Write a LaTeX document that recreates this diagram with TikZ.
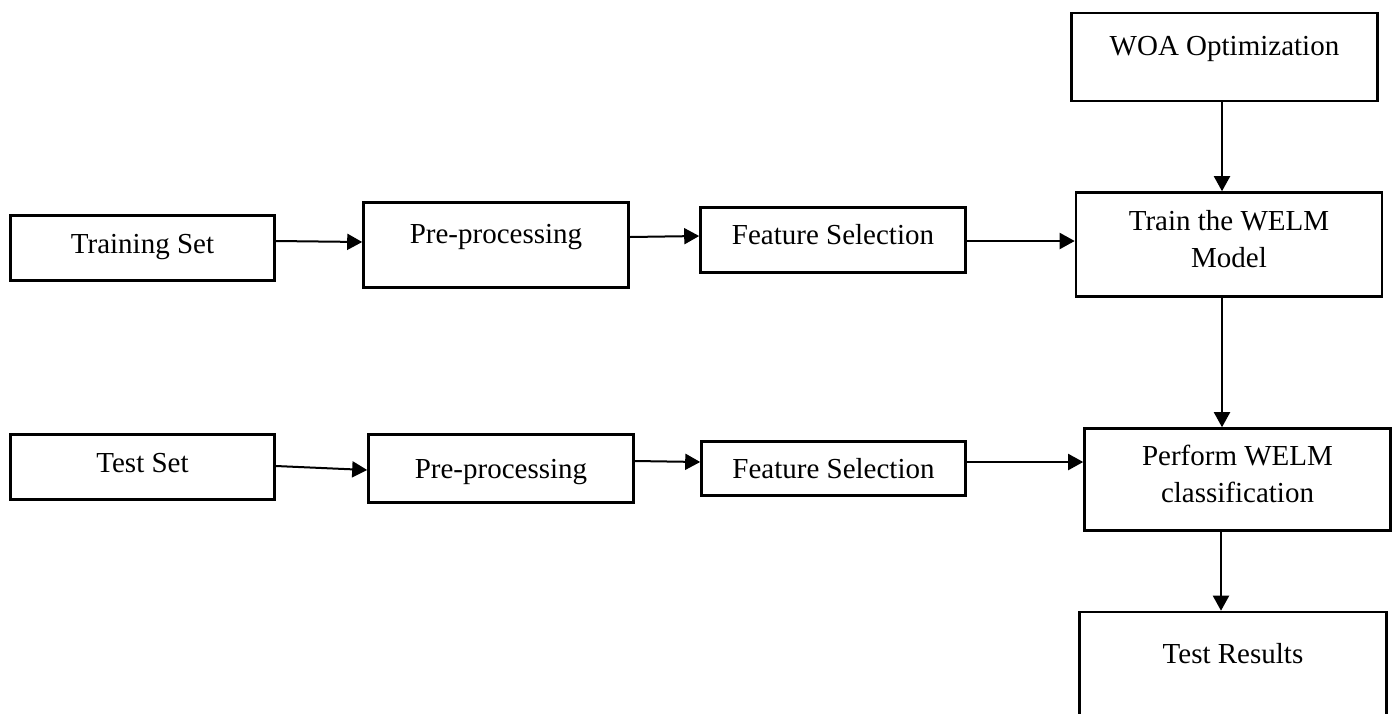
\documentclass[tikz,border=0pt]{standalone}
\usepackage{fontspec}
\setmainfont{Liberation Serif}
\usetikzlibrary{arrows.meta}
\begin{document}
\begin{tikzpicture}[x=0.5pt,y=-0.5pt,
  box/.style={draw=black,line width=1.3pt,rectangle,inner sep=0pt},
  txt/.style={inner sep=0pt,anchor=base,font=\fontsize{14.5}{17}\selectfont},
  arr/.style={line width=1pt,-{Triangle[length=7.5pt,width=8pt]}}]
\useasboundingbox (0,0) rectangle (1398,713);
\clip (0,0) rectangle (1398,713);
% boxes
\node[box,minimum width=153pt,minimum height=44pt] (woa) at (1224.5,57) {};
\node[box,minimum width=153pt,minimum height=52pt] (train) at (1229,244.5) {};
\node[box,minimum width=132pt,minimum height=32.5pt] (trs) at (142.5,248) {};
\node[box,minimum width=132.5pt,minimum height=42.5pt] (pre1) at (496,245) {};
\node[box,minimum width=132.5pt,minimum height=32.5pt] (fs1) at (833,240) {};
\node[box,minimum width=132pt,minimum height=32.5pt] (ts) at (142.5,467) {};
\node[box,minimum width=132.5pt,minimum height=34pt] (pre2) at (501,468.5) {};
\node[box,minimum width=132pt,minimum height=27pt] (fs2) at (833.5,468.5) {};
\node[box,minimum width=153pt,minimum height=51pt] (perf) at (1237.5,479.5) {};
\node[box,minimum width=153.5pt,minimum height=70pt] (res) at (1233,682) {};
% texts
\node[txt] (twoa) at (1224.5,55) {WOA Optimization};
\node[txt] (ttrain1) at (1229,230) {Train the WELM};
\node[txt] (ttrain2) at (1229,267) {Model};
\node[txt] (ttrs) at (142.5,253) {Training Set};
\node[txt] (tpre1) at (496,243) {Pre-processing};
\node[txt] (tfs1) at (833,244) {Feature Selection};
\node[txt] (tts) at (142.5,472) {Test Set};
\node[txt] (tpre2) at (501,478) {Pre-processing};
\node[txt] (tfs2) at (833.5,478) {Feature Selection};
\node[txt] (tperf1) at (1237.5,465) {Perform WELM};
\node[txt] (tperf2) at (1237.5,502) {classification};
\node[txt] (tres) at (1233,663) {Test Results};
% arrows
\draw[arr] (trs.east |- 0,241) -- (pre1.west |- 0,242);
\draw[arr] (pre1.east |- 0,237) -- (fs1.west |- 0,236);
\draw[arr] (fs1.east |- 0,241) -- (train.west |- 0,241);
\draw[arr] (woa.south -| 1222,0) -- (train.north -| 1222,0);
\draw[arr] (train.south -| 1222,0) -- (perf.north -| 1222,0);
\draw[arr] (ts.east |- 0,466) -- (pre2.west |- 0,470);
\draw[arr] (pre2.east |- 0,461) -- (fs2.west |- 0,462);
\draw[arr] (fs2.east |- 0,462) -- (perf.west |- 0,462);
\draw[arr] (perf.south -| 1221,0) -- (res.north -| 1221,0);
\end{tikzpicture}
\end{document}
